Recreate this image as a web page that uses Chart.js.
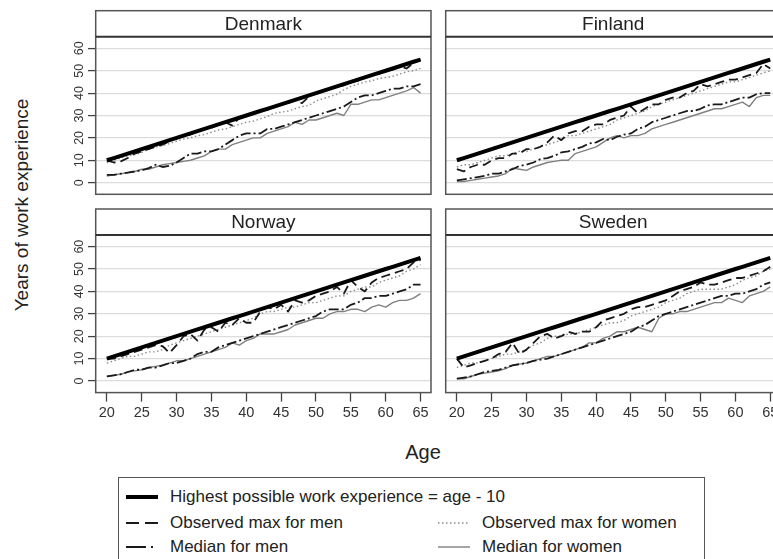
<!DOCTYPE html>
<html>
<head>
<meta charset="utf-8">
<title>Years of work experience by age</title>
<script src="https://cdn.jsdelivr.net/npm/chart.js@4.4.1/dist/chart.umd.min.js"></script>
<style>
  html, body { margin: 0; padding: 0; }
  body { width: 773px; height: 559px; overflow: hidden; position: relative; background: #fff;
         font-family: Arial, "Liberation Sans", Helvetica, sans-serif; color: #222; }
  .pane { position: absolute; }
  .pane canvas { display: block; }
  #ytitle { position: absolute; left: -128px; top: 194px; width: 300px; height: 22px; line-height: 22px;
            text-align: center; font-size: 19px; transform: rotate(-90deg); white-space: nowrap; }
  #xtitle { position: absolute; left: 323px; top: 441px; width: 200px; line-height: 22px;
            text-align: center; font-size: 20px; }
  #legend { position: absolute; left: 118px; top: 477px; width: 587px; height: 100px;
            border: 1.5px solid #555; box-sizing: border-box; }
  .key { position: absolute; font-size: 17px; line-height: 20px; white-space: nowrap; }
  .key svg { position: absolute; left: -44px; top: 0; }
</style>
</head>
<body>
<div id="ytitle">Years of work experience</div>
<div id="xtitle">Age</div>
<div id="legend"></div>
<script>
// Age axis (one point per year of age)
const ages = [20,21,22,23,24,25,26,27,28,29, 30,31,32,33,34,35,36,37,38,39,
              40,41,42,43,44,45,46,47,48,49, 50,51,52,53,54,55,56,57,58,59,
              60,61,62,63,64,65];
const ageTicks = [20,25,30,35,40,45,50,55,60,65];
const expTicks = [0,10,20,30,40,50,60];

// Upper bound: age - 10
const maxPossible = [10,11,12,13,14,15,16,17,18,19, 20,21,22,23,24,25,26,27,28,29,
                     30,31,32,33,34,35,36,37,38,39, 40,41,42,43,44,45,46,47,48,49,
                     50,51,52,53,54,55];

// Denmark
const dkMaxMen   = [10,9,9.5,11,13,14,15,16,17,18.5, 20,21,21.5,23,24,24.5,26,27,25.5,29,
                    29.5,31,32,32.5,34,35,35.5,37,35.5,38.5, 40,40.5,42,43,43.5,45,45.5,47,48,48.5,
                    50,50.5,52,51,53.5,55];
const dkMaxWomen = [9,10,11,12,12.5,13.5,15,16,16.5,17.5, 18.5,19.5,20,21,21.5,22.5,23.5,24,25,26,
                    27,27.5,28.5,29.5,31,31.5,32,33,34,34.5, 36.5,37.5,38.5,39.5,41.5,43,44,45,45.5,46.5,
                    47,47.5,48.5,49.5,50,51];
const dkMedMen   = [3.5,3.5,4,4.5,5,5.5,6.5,8,7,7.5, 9,11,13,13,14,14,15,17,19,21,
                    22,22,22,24,24,25,26,27,28,29, 30,31,32,33,34,36,38,39,39,40,
                    41,42,42,43,43,44];
const dkMedWomen = [3,3.5,4,4.5,5,6,6,7,8,8.5, 9,9.5,10,11,12,14,15,15,17,18,
                    19,20,20,22,23,24,25,27,26,28, 28,29,30,31,30,35,35,36,37,37,
                    38,39,40,41,42.5,40];

// Finland
const fiMaxMen   = [6,5,7,8,8,10,11,11,13,13, 15,15,16,18,21,19,22,23,23,25,
                    26,26,28,29,30,34,31,33,35,35, 37,38,38,40,41,44,43,44,45,46,
                    46,47,48,49,53,51];
const fiMaxWomen = [7,8,8,9,10,11,12,12,13,14, 14,15,16,17,18,19,21,21,22,23,
                    24,25,26,28,29,30,31,32,34,35, 36,37,38,39,40,41,42,43,44,45,
                    45,46,47,48,49,50];
const fiMedMen   = [1,1.5,2,2.5,3,4,4,5,6,7.5, 8,9,10.5,11,12,13.5,14,15,16,17.5,
                    18,19.5,19,20.5,21.5,22,24,25,27,28, 29,30,31,32,32,33,34.5,35,35,36,
                    37,38,38,39.5,40,40];
const fiMedWomen = [0.5,0.5,1,1.5,2,2.5,3,4,6.5,6, 5.5,7,8,9,9.5,10,10,13,14,15,
                    16,18,20,21,20,21,21,22,24,25, 26,27,28,29,30,31,32,33,33,34,
                    35,36,34,38,39,39];

// Norway
const noMaxMen   = [10,10,11,12,13,14,15,16,15.5,12.5, 16,20,21,18,23,24,22,26,25,28,
                    26,26,31,33,32,34,31,36,35,36, 38,39,40,42,39,45,42,40,44,46,
                    47,48,49,50,53,54];
const noMaxWomen = [8,9,10,11,11,12,13,13,14,16, 17,18,19,20,21,22,23,24,25,26,
                    27,28,30,31,31,32,33,33,34,35, 35,36,37,38,38,40,41,42,42,44,
                    45,46,47,49,50,52];
const noMedMen   = [2,2.5,3,4,5,5,6,6,7,8, 8,9,10,12,13,13,15,16,17,18,
                    19,20,21,22,23,24,25,26,27,28, 29,31,32,32,32,34,35,37,37,38,
                    38,39,40,41,43,43];
const noMedWomen = [2,2.5,3,4,4.5,5,6,6.5,7,8, 9,9,10,11,12,13,14,15,17,16,
                    18,19,21,21,21,22,23,25,26,27, 28,28,30,31,31,32,32,31,33,34,
                    33,35,36,36,37,39];

// Sweden
const seMaxMen   = [10,6,7,8,9,10,12,13,17,12, 14,17,20,21,19,20,22,21,22,22,
                    24,27,28,29,30,32,33,33,34,35, 36,38,40,41,42,44,43,43,44,45,
                    46,46,47,48,49,51];
const seMaxWomen = [6,7,8,8,9,10,11,12,12,13, 14,16,17,19,20,20,21,21,22,23,
                    24,25,26,26,27,29,30,31,32,33, 35,36,37,39,40,41,41,41,41,42,
                    43,45,46,47,49,50];
const seMedMen   = [1,1.5,2,3,4,4.5,5,6,7,7.5, 8,9,9.5,10,11,12,13,14,15,16,
                    17,18,19,20,21,22,24,25,27,29, 30,31,32,33,34,35,36,37,38,38,
                    39,39,40,41,43,44];
const seMedWomen = [1,1,2,3,3.5,4,4.5,5.5,7,7.5, 8,9,10,11,11,12,13,14,15,17,
                    17,19,20,22,22,23,24,23,22,28, 30,30,31,31,32,33,34,35,35,37,
                    36,35,38,39,40,42];

const seriesNames = [
  'Highest possible work experience = age - 10',
  'Observed max for men',
  'Observed max for women',
  'Median for men',
  'Median for women'
];

// Line styles, in the same order as seriesNames
const seriesStyles = [
  { color: '#000000', width: 4,   dash: [] },
  { color: '#1a1a1a', width: 1.8, dash: [9, 5] },
  { color: '#8c8c8c', width: 1.4, dash: [1.5, 2.5] },
  { color: '#1a1a1a', width: 1.8, dash: [10, 3, 2, 3] },
  { color: '#808080', width: 1.4, dash: [] }
];
// Legend symbols use slightly different dash spacing
const legendDash = ['', '13 6', '1.5 2.5', '20 5 2 5', ''];

const panels = [
  { title: 'Denmark', series: [maxPossible, dkMaxMen, dkMaxWomen, dkMedMen, dkMedWomen],
    box: { left: 50, top: 0, width: 390, height: 200 },
    padding: { left: 0, top: 36.7, right: 9, bottom: 5.7 }, yAxis: true, xAxis: false },
  { title: 'Finland', series: [maxPossible, fiMaxMen, fiMaxWomen, fiMedMen, fiMedWomen],
    box: { left: 440, top: 0, width: 350, height: 200 },
    padding: { left: 5.7, top: 36.7, right: 9.3, bottom: 5.7 }, yAxis: false, xAxis: false },
  { title: 'Norway', series: [maxPossible, noMaxMen, noMaxWomen, noMedMen, noMedWomen],
    box: { left: 50, top: 200, width: 390, height: 230 },
    padding: { left: 0, top: 35, right: 9, bottom: 0 }, yAxis: true, xAxis: true },
  { title: 'Sweden', series: [maxPossible, seMaxMen, seMaxWomen, seMedMen, seMedWomen],
    box: { left: 440, top: 200, width: 350, height: 230 },
    padding: { left: 5.7, top: 35, right: 9.3, bottom: 0 }, yAxis: false, xAxis: true }
];

const FONT = 'Arial, "Liberation Sans", Helvetica, sans-serif';
Chart.defaults.font.family = FONT;

// Draws the panel frame and the title strip above the plot area
const panelFrame = {
  id: 'panelFrame',
  afterDraw(chart, args, opts) {
    const { ctx, chartArea: a } = chart;
    const top = a.top - opts.strip;
    ctx.save();
    ctx.strokeStyle = '#555';
    ctx.lineWidth = 1.5;
    ctx.strokeRect(a.left, top, a.right - a.left, a.bottom - top);
    ctx.strokeStyle = '#333';
    ctx.lineWidth = 2;
    ctx.beginPath();
    ctx.moveTo(a.left, a.top);
    ctx.lineTo(a.right, a.top);
    ctx.stroke();
    ctx.fillStyle = '#222';
    ctx.font = '19px ' + FONT;
    ctx.textAlign = 'center';
    ctx.textBaseline = 'middle';
    ctx.fillText(opts.title, (a.left + a.right) / 2, top + opts.strip / 2 + 1);
    ctx.restore();
  }
};

function makePanel(p) {
  const wrap = document.createElement('div');
  wrap.className = 'pane';
  Object.assign(wrap.style, {
    left: p.box.left + 'px', top: p.box.top + 'px',
    width: p.box.width + 'px', height: p.box.height + 'px'
  });
  const cv = document.createElement('canvas');
  cv.width = p.box.width;
  cv.height = p.box.height;
  cv.style.width = p.box.width + 'px';
  cv.style.height = p.box.height + 'px';
  wrap.appendChild(cv);
  document.body.appendChild(wrap);

  const datasets = p.series.map((vals, i) => ({
    label: seriesNames[i],
    data: ages.map((a, j) => ({ x: a, y: vals[j] })),
    borderColor: seriesStyles[i].color,
    borderWidth: seriesStyles[i].width,
    borderDash: seriesStyles[i].dash,
    borderCapStyle: 'butt',
    borderJoinStyle: 'round',
    pointRadius: 0,
    tension: 0,
    fill: false
  }));

  new Chart(cv, {
    type: 'line',
    data: { datasets },
    plugins: [panelFrame],
    options: {
      responsive: false,
      animation: false,
      devicePixelRatio: 1,
      events: [],
      layout: { padding: p.padding },
      plugins: {
        legend: { display: false },
        tooltip: { enabled: false },
        panelFrame: { title: p.title, strip: 26 }
      },
      scales: {
        x: {
          type: 'linear', min: 18.4, max: 66.5, display: p.xAxis,
          afterBuildTicks: s => { s.ticks = ageTicks.map(v => ({ value: v })); },
          afterFit: s => {
            if (p.xAxis) s.height = p.box.height - 192.6;
            s.paddingLeft = 0; s.paddingRight = 0;
          },
          grid: { drawOnChartArea: false, drawTicks: true, tickLength: 9, tickColor: '#444', tickWidth: 1.3 },
          border: { display: false },
          ticks: { autoSkip: false, minRotation: 0, maxRotation: 0, padding: 3, color: '#333',
                   font: { size: 14.5 } }
        },
        y: {
          type: 'linear', min: -5.2, max: 65.2,
          afterBuildTicks: s => { s.ticks = expTicks.map(v => ({ value: v })); },
          afterFit: s => {
            s.width = p.yAxis ? 45.7 : 0;
            s.paddingTop = 0; s.paddingBottom = 0;
          },
          grid: { color: '#dcdcdc', lineWidth: 1.2, drawTicks: p.yAxis, tickLength: p.yAxis ? 7.7 : 0,
                  tickColor: '#444', tickWidth: 1.3 },
          border: { display: false },
          ticks: { display: p.yAxis, minRotation: 90, maxRotation: 90, crossAlign: 'center',
                   padding: 2, color: '#333', font: { size: 12.5 } }
        }
      }
    }
  });
}

panels.forEach(makePanel);

// Legend: first entry on its own row, then two columns
const legendSlots = [
  { left: 170, top: 486.5 },
  { left: 170, top: 512.5 },
  { left: 482, top: 512.5 },
  { left: 170, top: 537 },
  { left: 482, top: 537 }
];
seriesNames.forEach((name, i) => {
  const st = seriesStyles[i];
  const key = document.createElement('div');
  key.className = 'key';
  key.style.left = legendSlots[i].left + 'px';
  key.style.top = legendSlots[i].top + 'px';
  key.innerHTML =
    '<svg width="32" height="20"><line x1="0" y1="10" x2="32" y2="10" stroke="' + st.color +
    '" stroke-width="' + (i === 0 ? 4 : st.width) + '"' +
    (legendDash[i] ? ' stroke-dasharray="' + legendDash[i] + '"' : '') + '/></svg>';
  key.appendChild(document.createTextNode(name));
  document.body.appendChild(key);
});
</script>
</body>
</html>
